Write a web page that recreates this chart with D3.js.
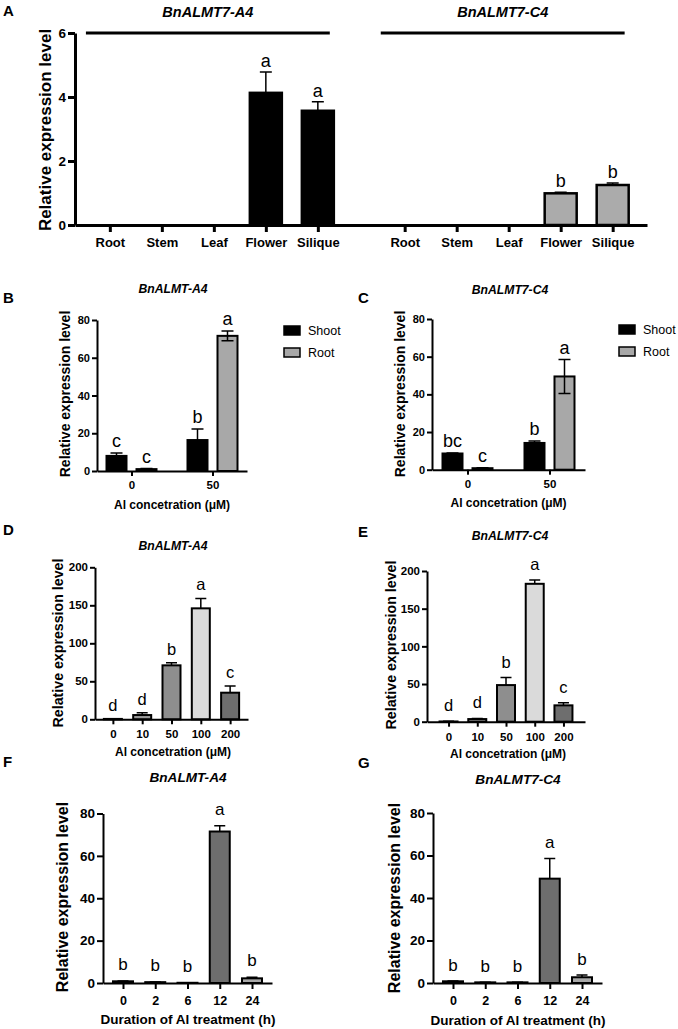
<!DOCTYPE html>
<html>
<head>
<meta charset="utf-8">
<script src="https://cdn.jsdelivr.net/npm/d3@7"></script>
<style>
  body { margin: 0; background: #fff; }
</style>
</head>
<body>
<script>
const width = 678;
const height = 1029;
const FONT = "Arial, 'Liberation Sans', Helvetica, sans-serif";

// ---- data: panel A (tissues)
const tissues = ["Root", "Stem", "Leaf", "Flower", "Silique"];
const genesA = ["BnALMT7-A4", "BnALMT7-C4"];
const tissueA4 = [0, 0, 0, 4.13, 3.57];
const tissueA4Err = [0, 0, 0, 0.65, 0.28];
const tissueA4Sig = ["", "", "", "a", "a"];
const tissueC4 = [0, 0, 0, 0.99, 1.25];
const tissueC4Err = [0, 0, 0, 0.03, 0.06];
const tissueC4Sig = ["", "", "", "b", "b"];
const ticksA = [0, 2, 4, 6];

// ---- data: panels B, C (shoot vs root)
const alConc = ["0", "50"];
const organs = ["Shoot", "Root"];
const shootA4 = [8.0, 16.4];
const shootA4Err = [1.5, 5.8];
const shootA4Sig = ["c", "b"];
const rootA4 = [1.0, 71.6];
const rootA4Err = [0.3, 2.6];
const rootA4Sig = ["c", "a"];
const shootC4 = [8.6, 14.2];
const shootC4Err = [0.3, 1.0];
const shootC4Sig = ["bc", "b"];
const rootC4 = [0.8, 49.5];
const rootC4Err = [0.2, 9.0];
const rootC4Sig = ["c", "a"];
const ticks80 = [0, 20, 40, 60, 80];

// ---- data: panels D, E (Al dose)
const doses = ["0", "10", "50", "100", "200"];
const doseA4 = [0.5, 5.6, 71, 146, 35];
const doseA4Err = [0.3, 3.0, 3.5, 13, 8.8];
const doseA4Sig = ["d", "d", "b", "a", "c"];
const doseC4 = [0.3, 3.5, 48.6, 183, 21.7];
const doseC4Err = [0.2, 0.8, 10, 5, 3.5];
const doseC4Sig = ["d", "d", "b", "a", "c"];
const ticks200 = [0, 50, 100, 150, 200];

// ---- data: panels F, G (time course)
const hours = ["0", "2", "6", "12", "24"];
const timeA4 = [0.8, 0.4, 0.1, 71.5, 2.2];
const timeA4Err = [0.2, 0.1, 0.05, 2.7, 0.5];
const timeA4Sig = ["b", "b", "b", "a", "b"];
const timeC4 = [0.8, 0.3, 0.3, 49.1, 2.7];
const timeC4Err = [0.2, 0.1, 0.1, 9.5, 1.1];
const timeC4Sig = ["b", "b", "b", "a", "b"];

const doseFills = ["#555", "#9a9a9a", "#8e8e8e", "#dadada", "#6e6e6e"];
const timeFills = ["#333", "#6e6e6e", "#6e6e6e", "#6e6e6e", "#a9a9a9"];

const fmtInt = d3.format("d");

const svg = d3.select("body")
      .append("svg")
      .attr("width", width)
      .attr("height", height);

function text(x, y, str, size, opt) {
    opt = opt || {};
    const t = svg.append("text")
	  .attr("x", x).attr("y", y)
	  .attr("font-family", FONT)
	  .attr("font-size", size)
	  .attr("font-weight", opt.weight || "normal")
	  .attr("font-style", opt.style || "normal")
	  .attr("text-anchor", opt.anchor || "start")
	  .attr("fill", "#000")
	  .text(str);
    return t;
}

function yLabel(x, yc, size) {
    svg.append("text")
	.attr("transform", `translate(${x},${yc}) rotate(-90)`)
	.attr("font-family", FONT)
	.attr("font-size", size)
	.attr("font-weight", "bold")
	.attr("text-anchor", "middle")
	.text("Relative expression level");
}

function styleAxis(g, sw, fs) {
    g.attr("font-family", FONT);
    g.select(".domain").attr("stroke", "#000").attr("stroke-width", sw);
    g.selectAll(".tick line").attr("stroke", "#000").attr("stroke-width", sw);
    g.selectAll(".tick text").attr("fill", "#000")
	.attr("font-size", fs).attr("font-weight", "bold");
}

function errBars(g, data, cx, y, cap, both) {
    g.selectAll("path.err")
	.data(data.filter(d => d.e > 0))
	.join("path")
	.attr("class", "err")
	.attr("fill", "none")
	.attr("stroke", "#000")
	.attr("stroke-width", 1.5)
	.attr("d", d => {
	    const x = cx(d), hi = y(d.v + d.e), lo = both ? y(d.v - d.e) : y(d.v);
	    let p = `M${x},${lo}V${hi}M${x - cap / 2},${hi}H${x + cap / 2}`;
	    if (both) p += `M${x - cap / 2},${lo}H${x + cap / 2}`;
	    return p;
	});
}

function sigLetters(g, data, cx, y, gap, size) {
    g.selectAll("text.sig")
	.data(data.filter(d => d.s))
	.join("text")
	.attr("class", "sig")
	.attr("x", cx)
	.attr("y", d => y(d.v + d.e) - gap)
	.attr("text-anchor", "middle")
	.attr("font-family", FONT)
	.attr("font-size", size)
	.text(d => d.s);
}

// ================= Panel A =================
(function () {
    const gapA = 0.67;
    const xA = d3.scaleLinear().domain([-0.67, 10.33]).range([75, 647]);
    const yA = d3.scaleLinear().domain([0, 6]).range([225, 33]);
    const g = svg.append("g");
    const series = [
	{ gene: genesA[0], vals: tissueA4, errs: tissueA4Err, sig: tissueA4Sig, fill: "#000" },
	{ gene: genesA[1], vals: tissueC4, errs: tissueC4Err, sig: tissueC4Sig, fill: "#ababab" }
    ];
    const positions = [];
    const names = [];
    series.forEach((s, k) => {
	const start = k * (tissues.length + gapA);
	const data = tissues.map((t, i) => ({ pos: start + i, v: s.vals[i], e: s.errs[i], s: s.sig[i] }));
	data.forEach((d, i) => { positions.push(d.pos); names.push(tissues[i]); });
	const sg = g.append("g");
	sg.selectAll("rect")
	    .data(data)
	    .join("rect")
	    .attr("x", d => xA(d.pos) - 16)
	    .attr("y", d => yA(d.v))
	    .attr("width", 32)
	    .attr("height", d => yA(0) - yA(d.v))
	    .attr("fill", s.fill)
	    .attr("stroke", "#000")
	    .attr("stroke-width", 2.5);
	errBars(sg, data, d => xA(d.pos), yA, 12, false);
	sigLetters(sg, data, d => xA(d.pos), yA, 5, 18);
	// gene bracket line and title
	const x1 = xA(start - 0.46), x2 = xA(start + 4.23);
	g.append("line")
	    .attr("x1", x1).attr("x2", x2)
	    .attr("y1", yA(6)).attr("y2", yA(6))
	    .attr("stroke", "#000").attr("stroke-width", 3);
	text((x1 + x2) / 2, 17, s.gene, 14.5, { weight: "bold", style: "italic", anchor: "middle" });
    });
    const ax = g.append("g")
	  .attr("transform", `translate(0,${yA(0)})`)
	  .call(d3.axisBottom(xA).tickValues(positions)
		.tickFormat((d, i) => names[i]).tickSize(7).tickSizeOuter(0).tickPadding(6));
    styleAxis(ax, 3, 13);
    const ay = g.append("g")
	  .attr("transform", "translate(75,0)")
	  .call(d3.axisLeft(yA).tickValues(ticksA).tickFormat(fmtInt)
		.tickSize(7).tickSizeOuter(0).tickPadding(2));
    styleAxis(ay, 3, 13.5);
    yLabel(51, 130, 17);
    text(3, 16, "A", 15, { weight: "bold" });
})();

// ================= Panels B, C =================
function groupedPanel(p) {
    const x = d3.scalePoint().domain(alConc).range([p.left, p.right]).padding(p.pad);
    const sub = d3.scaleBand().domain(organs).range([-25, 25]).paddingInner(1 / 3);
    const y = d3.scaleLinear().domain([0, 80]).range([p.y0, p.yTop]);
    const g = svg.append("g");
    const fills = { Shoot: "#000", Root: "#a8a8a8" };
    const data = [];
    alConc.forEach((c, i) => {
	data.push({ c, o: "Shoot", v: p.shoot[i], e: p.shootErr[i], s: p.shootSig[i] });
	data.push({ c, o: "Root", v: p.root[i], e: p.rootErr[i], s: p.rootSig[i] });
    });
    const cx = d => x(d.c) + sub(d.o) + sub.bandwidth() / 2;
    g.selectAll("rect")
	.data(data)
	.join("rect")
	.attr("x", d => x(d.c) + sub(d.o))
	.attr("y", d => y(d.v))
	.attr("width", sub.bandwidth())
	.attr("height", d => y(0) - y(d.v))
	.attr("fill", d => fills[d.o])
	.attr("stroke", "#000")
	.attr("stroke-width", 2);
    errBars(g, data, cx, y, 12, true);
    sigLetters(g, data, cx, y, 6, 18);
    const ax = g.append("g")
	  .attr("transform", `translate(0,${p.y0})`)
	  .call(d3.axisBottom(x).tickSize(5).tickSizeOuter(0).tickPadding(5));
    styleAxis(ax, 2, 11.5);
    const ay = g.append("g")
	  .attr("transform", `translate(${p.left},0)`)
	  .call(d3.axisLeft(y).tickValues(ticks80).tickFormat(fmtInt)
		.tickSize(5).tickSizeOuter(0).tickPadding(2));
    styleAxis(ay, 2, 11);
    // legend
    organs.forEach((o, i) => {
	g.append("rect")
	    .attr("x", p.left + 187).attr("y", p.yTop + 6 + i * 22)
	    .attr("width", 16).attr("height", 9)
	    .attr("fill", fills[o]).attr("stroke", "#000").attr("stroke-width", 1.5);
	text(p.left + 211, p.yTop + 15 + i * 22, o, 12.5);
    });
    yLabel(p.labX, 394, 14);
    text((p.left + p.right) / 2, p.y0 + 37.5, "Al concetration (\u03bcM)", 12, { weight: "bold", anchor: "middle" });
    text(p.titleX, p.titleY, p.title, 12.2, { weight: "bold", style: "italic", anchor: "middle" });
    text(p.letterX, 303, p.letter, 15, { weight: "bold" });
}

groupedPanel({ left: 97, right: 247, pad: 0.426, y0: 471, yTop: 320,
	       shoot: shootA4, shootErr: shootA4Err, shootSig: shootA4Sig,
	       root: rootA4, rootErr: rootA4Err, rootSig: rootA4Sig,
	       labX: 70, title: "BnALMT-A4", titleX: 173, titleY: 293, letter: "B", letterX: 3 });
groupedPanel({ left: 432, right: 585, pad: 0.433, y0: 469.7, yTop: 319,
	       shoot: shootC4, shootErr: shootC4Err, shootSig: shootC4Sig,
	       root: rootC4, rootErr: rootC4Err, rootSig: rootC4Sig,
	       labX: 405, title: "BnALMT7-C4", titleX: 510, titleY: 294, letter: "C", letterX: 358 });

// ================= Panels D-G =================
function singlePanel(p) {
    const x = d3.scalePoint().domain(p.cats).range([p.left, p.right]).padding(p.pad);
    const y = d3.scaleLinear().domain([0, p.yMax]).range([p.y0, p.yTop]);
    const g = svg.append("g");
    const data = p.cats.map((c, i) => ({ c, v: p.vals[i], e: p.errs[i], s: p.sig[i], fill: p.fills[i] }));
    g.selectAll("rect")
	.data(data)
	.join("rect")
	.attr("x", d => x(d.c) - p.bw / 2)
	.attr("y", d => y(d.v))
	.attr("width", p.bw)
	.attr("height", d => y(0) - y(d.v))
	.attr("fill", d => d.fill)
	.attr("stroke", "#000")
	.attr("stroke-width", 2);
    errBars(g, data, d => x(d.c), y, 11, false);
    sigLetters(g, data, d => x(d.c), y, p.gap, p.sigSize);
    const ax = g.append("g")
	  .attr("transform", `translate(0,${p.y0})`)
	  .call(d3.axisBottom(x).tickSize(p.tick).tickSizeOuter(0).tickPadding(p.xPad));
    styleAxis(ax, 2, p.xfs);
    const ay = g.append("g")
	  .attr("transform", `translate(${p.left},0)`)
	  .call(d3.axisLeft(y).tickValues(p.ticks).tickFormat(fmtInt)
		.tickSize(p.tick).tickSizeOuter(0).tickPadding(2));
    styleAxis(ay, 2, p.yfs);
    yLabel(p.labX, p.labY, p.labSize);
    text(p.xTitleX, p.xTitleY, p.xTitle, p.xTitleSize, { weight: "bold", anchor: "middle" });
    text(p.titleX, p.titleY, p.title, p.titleSize, { weight: "bold", style: "italic", anchor: "middle" });
    text(p.letterX, p.letterY, p.letter, 15, { weight: "bold" });
}

const doseTitle = "Al concetration (\u03bcM)";
const timeTitle = "Duration of Al treatment (h)";

singlePanel({ cats: doses, vals: doseA4, errs: doseA4Err, sig: doseA4Sig, fills: doseFills,
	      left: 95, right: 248, pad: 0.61, y0: 719.3, yTop: 567.3, yMax: 200, ticks: ticks200,
	      bw: 18, gap: 8, sigSize: 16.5, tick: 5, xPad: 6, xfs: 11.5, yfs: 11.5,
	      labX: 63, labY: 643, labSize: 14.2,
	      xTitle: doseTitle, xTitleX: 173, xTitleY: 756, xTitleSize: 12,
	      title: "BnALMT-A4", titleX: 173, titleY: 550, titleSize: 12.2,
	      letter: "D", letterX: 3, letterY: 535 });
singlePanel({ cats: doses, vals: doseC4, errs: doseC4Err, sig: doseC4Sig, fills: doseFills,
	      left: 427, right: 585, pad: 0.75, y0: 721.7, yTop: 571, yMax: 200, ticks: ticks200,
	      bw: 18, gap: 10, sigSize: 16.5, tick: 5, xPad: 6, xfs: 11.5, yfs: 11.5,
	      labX: 396, labY: 645, labSize: 14.2,
	      xTitle: doseTitle, xTitleX: 508, xTitleY: 758, xTitleSize: 12,
	      title: "BnALMT7-C4", titleX: 510, titleY: 540, titleSize: 12.2,
	      letter: "E", letterX: 358, letterY: 537 });
singlePanel({ cats: hours, vals: timeA4, errs: timeA4Err, sig: timeA4Sig, fills: timeFills,
	      left: 103, right: 272, pad: 0.62, y0: 983, yTop: 813.5, yMax: 80, ticks: ticks80,
	      bw: 20, gap: 11, sigSize: 17, tick: 6, xPad: 7, xfs: 12.5, yfs: 13.5,
	      labX: 68, labY: 897, labSize: 16,
	      xTitle: timeTitle, xTitleX: 188, xTitleY: 1024, xTitleSize: 13.5,
	      title: "BnALMT-A4", titleX: 188, titleY: 782, titleSize: 13.6,
	      letter: "F", letterX: 3, letterY: 767 });
singlePanel({ cats: hours, vals: timeC4, errs: timeC4Err, sig: timeC4Sig, fills: timeFills,
	      left: 433, right: 602, pad: 0.62, y0: 983, yTop: 813, yMax: 80, ticks: ticks80,
	      bw: 20, gap: 10, sigSize: 17, tick: 6, xPad: 7, xfs: 12.5, yfs: 13.5,
	      labX: 400, labY: 898, labSize: 16,
	      xTitle: timeTitle, xTitleX: 518, xTitleY: 1025, xTitleSize: 13.5,
	      title: "BnALMT7-C4", titleX: 518, titleY: 784, titleSize: 13.6,
	      letter: "G", letterX: 358, letterY: 768 });
</script>
</body>
</html>
